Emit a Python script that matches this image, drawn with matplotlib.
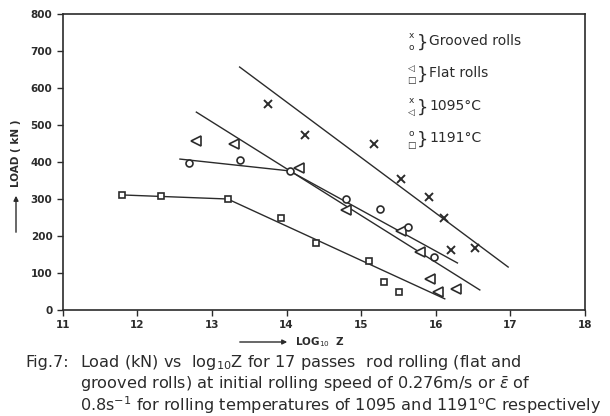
import matplotlib
matplotlib.use("Agg")
import matplotlib.pyplot as plt

# data: log10 Z vs load (kN)
gr1095_x = [13.75, 14.25, 15.17, 15.53, 15.91, 16.11, 16.20, 16.52]
gr1095_y = [557, 473, 449, 354, 306, 249, 162, 168]
fl1095_x = [12.79, 13.29, 14.17, 14.79, 15.53, 15.79, 15.92, 16.03, 16.27]
fl1095_y = [457, 449, 384, 270, 214, 157, 84, 49, 57]
gr1191_x = [12.69, 13.37, 14.04, 14.79, 15.25, 15.63, 15.97]
gr1191_y = [397, 405, 376, 300, 273, 224, 143]
fl1191_x = [11.79, 12.31, 13.21, 13.92, 14.39, 15.11, 15.31, 15.51]
fl1191_y = [311, 308, 300, 249, 181, 132, 76, 49]

# hand drawn fit lines
fit_gr1095_x = [13.37, 16.97]
fit_gr1095_y = [657, 116]
fit_fl1095_x = [12.79, 16.59]
fit_fl1095_y = [535, 54]
fit_gr1191_x = [12.57, 14.04, 16.29]
fit_gr1191_y = [408, 376, 127]
fit_fl1191_x = [11.79, 13.21, 16.12]
fit_fl1191_y = [311, 300, 30]

x_ticks = [11, 12, 13, 14, 15, 16, 17, 18]
y_ticks = [0, 100, 200, 300, 400, 500, 600, 700, 800]

legend_top = ["x", "\u25c1", "x", "o"]
legend_bot = ["o", "\u25a1", "\u25c1", "\u25a1"]
legend_text = ["Grooved rolls", "Flat rolls", "1095\u00b0C", "1191\u00b0C"]

ink = "#2b2b2b"

fig = plt.figure(figsize=(6.1, 4.16), dpi=100)
ax = fig.add_axes([0.103, 0.255, 0.856, 0.711])

for fx, fy in [(fit_gr1095_x, fit_gr1095_y), (fit_fl1095_x, fit_fl1095_y),
               (fit_gr1191_x, fit_gr1191_y), (fit_fl1191_x, fit_fl1191_y)]:
	ax.plot(fx, fy, color=ink, lw=1.0)

ax.plot(gr1095_x, gr1095_y, ls="none", marker="x", ms=6, mew=1.4, color=ink)
ax.plot(fl1095_x, fl1095_y, ls="none", marker="<", ms=6.5, mew=1.2, mfc="white", mec=ink)
ax.plot(gr1191_x, gr1191_y, ls="none", marker="o", ms=5, mew=1.2, mfc="white", mec=ink)
ax.plot(fl1191_x, fl1191_y, ls="none", marker="s", ms=5, mew=1.2, mfc="white", mec=ink)

ax.set_xlim(11, 18)
ax.set_ylim(0, 800)
ax.set_xticks(x_ticks)
ax.set_yticks(y_ticks)
ax.tick_params(direction="out", length=4, width=1.0, colors=ink, labelsize=7.5)
for lab in ax.get_xticklabels() + ax.get_yticklabels():
	lab.set_fontweight("bold")
for s in ax.spines.values():
	s.set_linewidth(1.2)
	s.set_color(ink)

# hand-lettered legend with braces
for i in range(4):
	yy = 0.905 - i * 0.11
	ax.text(0.668, yy + 0.022, legend_top[i], transform=ax.transAxes, fontsize=6.5,
			ha="center", va="center", color=ink)
	ax.text(0.668, yy - 0.018, legend_bot[i], transform=ax.transAxes, fontsize=6.5,
			ha="center", va="center", color=ink)
	ax.text(0.677, yy, "}", transform=ax.transAxes, fontsize=13, ha="left",
			va="center", color=ink)
	ax.text(0.702, yy + 0.005, legend_text[i], transform=ax.transAxes, fontsize=10,
			ha="left", va="center", color=ink)

# axis titles with arrows
arr = dict(arrowstyle="-|>", color=ink, lw=1.0, mutation_scale=7)
ax.annotate("", xy=(290 / 610, 1 - 342 / 416), xytext=(237 / 610, 1 - 342 / 416),
			xycoords="figure fraction", textcoords="figure fraction",
			arrowprops=arr, annotation_clip=False)
fig.text(295 / 610, 1 - 342 / 416, r"LOG$_{10}$  Z", fontsize=7.5, fontweight="bold",
		 ha="left", va="center", color=ink)
ax.annotate("", xy=(16 / 610, 1 - 193 / 416), xytext=(16 / 610, 1 - 235 / 416),
			xycoords="figure fraction", textcoords="figure fraction",
			arrowprops=arr, annotation_clip=False)
fig.text(16 / 610, 1 - 153 / 416, "LOAD ( kN )", fontsize=7.5, fontweight="bold",
		 rotation=90, ha="center", va="center", color=ink)

# caption
fig.text(25 / 610, 1 - 363 / 416, "Fig.7:", fontsize=11.6, ha="left", va="center", color=ink)
caption = [r"Load (kN) vs  log$_{10}$Z for 17 passes  rod rolling (flat and",
		   r"grooved rolls) at initial rolling speed of 0.276m/s or $\bar{\varepsilon}$ of",
		   r"0.8s$^{-1}$ for rolling temperatures of 1095 and 1191$^{\rm o}$C respectively"]
for i, line in enumerate(caption):
	fig.text(80 / 610, 1 - (363 + 21 * i) / 416, line, fontsize=11.6, ha="left",
			 va="center", color=ink)

fig.savefig("out.png", dpi=100, facecolor="white")
